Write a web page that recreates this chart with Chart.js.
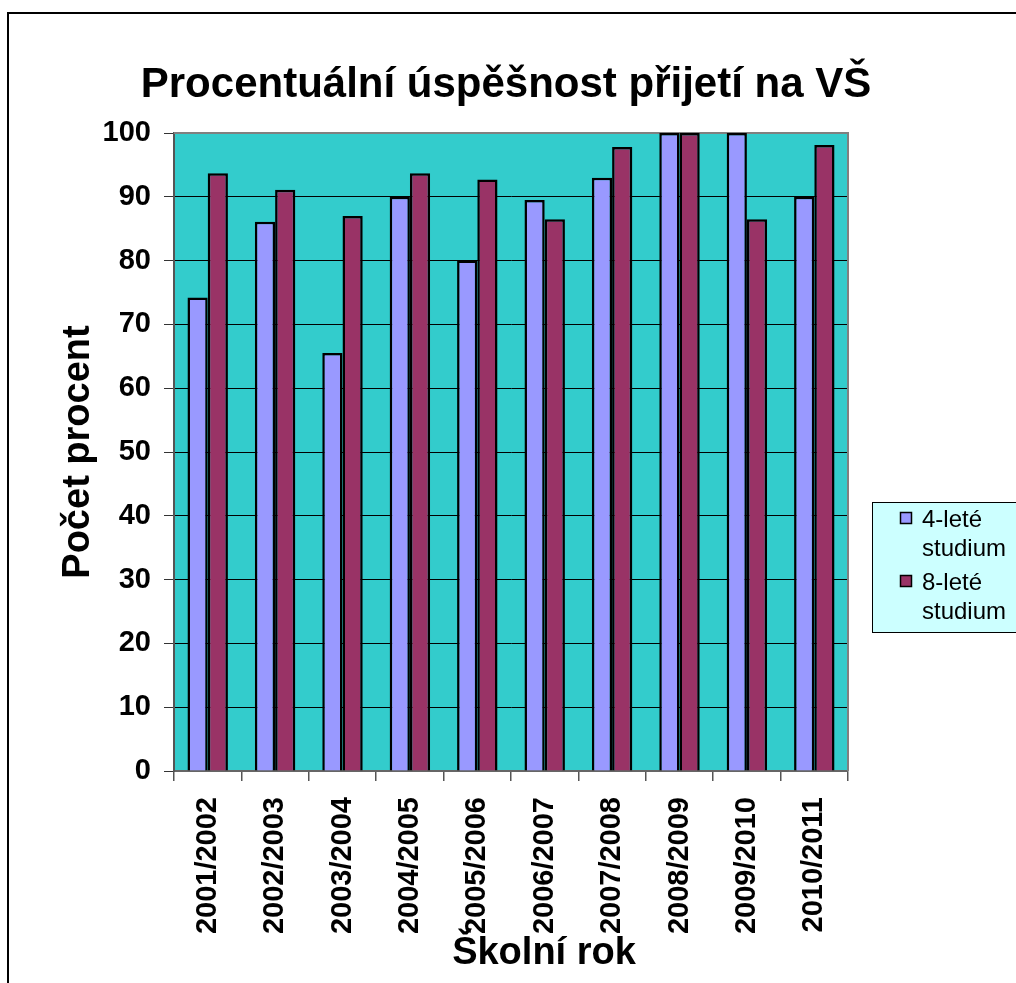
<!DOCTYPE html>
<html lang="cs">
<head>
<meta charset="utf-8">
<title>Procentuální úspěšnost přijetí na VŠ</title>
<script src="https://cdn.jsdelivr.net/npm/chart.js@4.4.1/dist/chart.umd.min.js"></script>
<style>
    html, body { margin: 0; padding: 0; background: #fff; }
    #wrap { width: 1016px; height: 983px; }
</style>
</head>
<body>
<div id="wrap"><canvas id="uspesnostChart" width="1016" height="983"></canvas></div>
<script>
const skolniRoky = ['2001/2002', '2002/2003', '2003/2004', '2004/2005', '2005/2006',
    '2006/2007', '2007/2008', '2008/2009', '2009/2010', '2010/2011'];
const ctyrleteStudium = [74.2, 86.1, 65.5, 90, 80, 89.5, 93, 100, 100, 90];
const osmileteStudium = [93.7, 91.1, 87, 93.7, 92.7, 86.5, 97.8, 100, 86.5, 98.1];
const legendLines = [['4-leté', 'studium'], ['8-leté', 'studium']];

(function () {
    const canvas = document.getElementById('uspesnostChart');
    if (!canvas || typeof Chart === 'undefined') return;

    const FONT = "'Liberation Sans', Arial, sans-serif";

    // frame, plot background, titles and the two-line legend
    const decor = {
        id: 'decor',
        beforeDraw(chart) {
            const { ctx, chartArea: a } = chart;
            ctx.save();
            ctx.fillStyle = '#fff';
            ctx.fillRect(0, 0, chart.width, chart.height);
            ctx.strokeStyle = '#000';
            ctx.lineWidth = 2;
            ctx.beginPath();
            ctx.moveTo(8, 983);
            ctx.lineTo(8, 13);
            ctx.lineTo(1016, 13);
            ctx.stroke();
            ctx.fillStyle = '#33CCCC';
            ctx.fillRect(a.left, a.top, a.right - a.left, a.bottom - a.top);
            ctx.restore();
        },
        beforeDatasetsDraw(chart) {
            const { ctx, chartArea: a } = chart;
            ctx.save();
            ctx.strokeStyle = '#808080';
            ctx.lineWidth = 2;
            ctx.beginPath();
            ctx.moveTo(a.left, a.top);
            ctx.lineTo(a.right, a.top);
            ctx.lineTo(a.right, a.bottom);
            ctx.stroke();
            ctx.restore();
        },
        afterDraw(chart) {
            const { ctx } = chart;
            ctx.save();
            ctx.fillStyle = '#000';
            ctx.textAlign = 'center';
            ctx.textBaseline = 'alphabetic';
            ctx.font = 'bold 42px ' + FONT;
            ctx.fillText('Procentuální úspěšnost přijetí na VŠ', 506, 97);
            ctx.font = 'bold 38px ' + FONT;
            ctx.fillText('Školní rok', 544, 964);

            // legend
            ctx.fillStyle = '#CCFFFF';
            ctx.fillRect(872, 502, 150, 130);
            ctx.strokeStyle = '#000';
            ctx.lineWidth = 1;
            ctx.strokeRect(872.5, 502.5, 150, 130);
            ctx.font = '24px ' + FONT;
            ctx.textAlign = 'left';
            chart.data.datasets.forEach((ds, i) => {
                const y = 512 + i * 63;
                ctx.fillStyle = ds.backgroundColor;
                ctx.fillRect(900, y, 11, 11);
                ctx.lineWidth = 1.5;
                ctx.strokeRect(900.5, y + 0.5, 11, 11);
                ctx.fillStyle = '#000';
                legendLines[i].forEach((line, j) => {
                    ctx.fillText(line, 922, y + 15 + j * 29);
                });
            });
            ctx.restore();
        },
    };

    // eslint-disable-next-line no-new
    new Chart(canvas.getContext('2d'), {
        type: 'bar',
        data: {
            labels: skolniRoky,
            datasets: [
                {
                    label: '4-leté studium',
                    data: ctyrleteStudium,
                    backgroundColor: '#9999FF',
                    borderColor: '#000',
                    borderWidth: 2.5,
                },
                {
                    label: '8-leté studium',
                    data: osmileteStudium,
                    backgroundColor: '#993366',
                    borderColor: '#000',
                    borderWidth: 2.5,
                },
            ],
        },
        options: {
            responsive: false,
            animation: false,
            devicePixelRatio: 1,
            layout: { padding: { top: 133, right: 168, left: 0, bottom: 0 } },
            datasets: { bar: { categoryPercentage: 0.6, barPercentage: 1 } },
            plugins: {
                legend: { display: false },
                title: { display: false },
                tooltip: { enabled: false },
            },
            scales: {
                x: {
                    offset: true,
                    grid: {
                        offset: true,
                        drawOnChartArea: false,
                        tickLength: 10,
                        color: '#555',
                        lineWidth: 1.5,
                    },
                    border: { color: '#666', width: 2 },
                    ticks: {
                        autoSkip: false,
                        minRotation: 90,
                        maxRotation: 90,
                        padding: 16,
                        color: '#000',
                        font: { family: FONT, size: 29, weight: 'bold' },
                    },
                    afterFit(scale) { scale.height = 212; },
                },
                y: {
                    min: 0,
                    max: 100,
                    grid: { color: '#000', lineWidth: 1, tickLength: 10, tickColor: '#333' },
                    border: { color: '#555', width: 2 },
                    ticks: {
                        stepSize: 10,
                        padding: 13,
                        color: '#000',
                        font: { family: FONT, size: 29, weight: 'bold' },
                    },
                    title: {
                        display: true,
                        text: 'Počet procent',
                        color: '#000',
                        font: { family: FONT, size: 38, weight: 'bold' },
                        padding: { top: 56, bottom: 0 },
                    },
                    afterFit(scale) { scale.width = 174; },
                },
            },
        },
        plugins: [decor],
    });
})();
</script>
</body>
</html>
